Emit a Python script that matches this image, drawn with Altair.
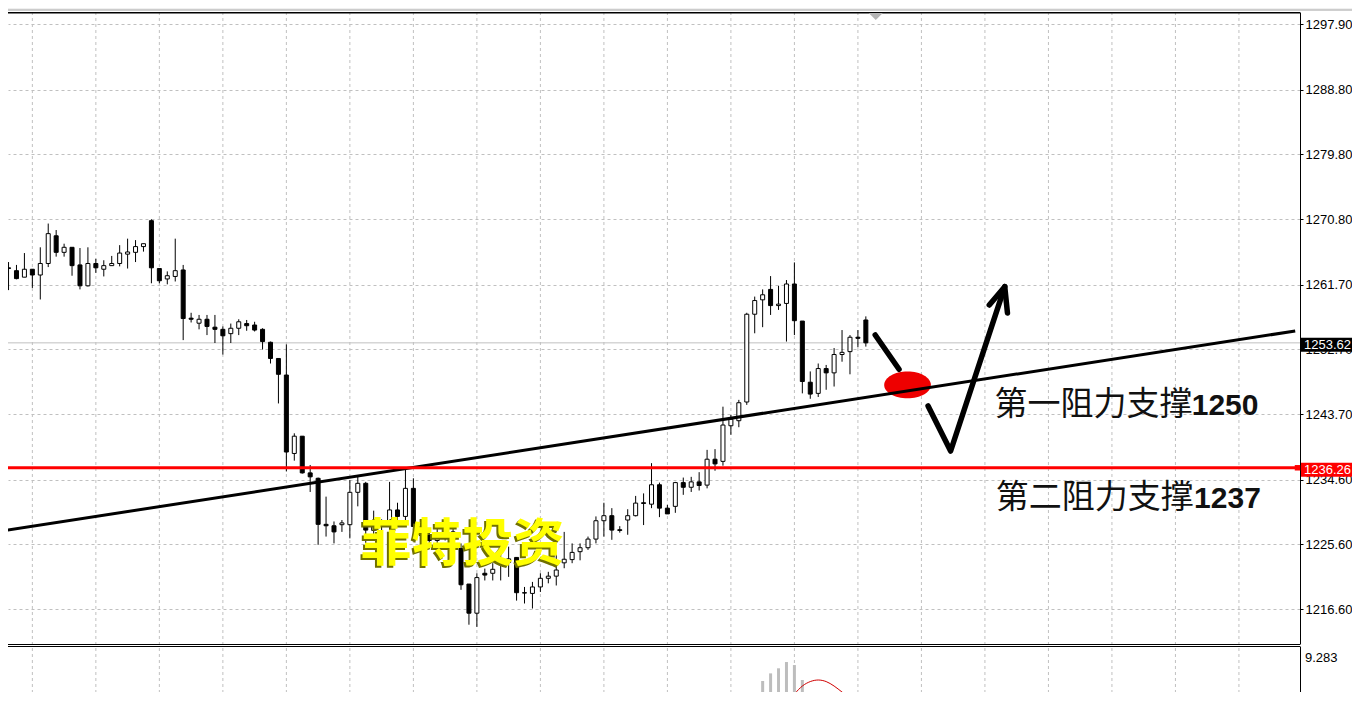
import altair as alt
import pandas as pd
import numpy as np

# ---------------- data ----------------
idx = list(range(109))
opens = [1264.05,1263.65,1262.75,1263.85,1263.05,1264.65,1268.5,1266.2,1266.9,1264.45,
         1261.55,1264.65,1263.85,1264.35,1264.65,1265.95,1266.2,1267.0,1270.6,1263.95,
         1262.5,1262.85,1263.75,1257.05,1256.35,1256.9,1255.8,1255.5,1254.9,1255.65,
         1256.3,1256.1,1255.5,1253.7,1251.45,1249.15,1238.25,1240.65,1235.55,1234.8,
         1228.4,1228.2,1228.35,1228.35,1232.85,1234.1,1227.55,1228.2,1228.35,1230.4,
         1229.5,1233.4,1228.1,1226.85,1226.15,1228.1,1227.35,1225.05,1220.1,1216.05,
         1221.6,1221.6,1222.8,1223.1,1223.8,1218.9,1218.8,1219.7,1220.9,1221.2,
         1223.05,1223.5,1224.6,1225.15,1226.35,1228.9,1229.6,1227.65,1229.0,1229.6,
         1231.4,1231.2,1233.9,1230.65,1230.9,1234.2,1233.55,1234.3,1233.85,1237.45,
         1237.15,1242.1,1242.8,1245.4,1257.6,1259.6,1261.05,1258.8,1259.1,1261.8,
         1256.65,1248.15,1246.6,1250.05,1249.45,1252.0,1252.4,1254.4,1256.8]
highs = [1264.85,1264.45,1266.1,1263.85,1266.9,1270.2,1269.3,1267.4,1266.9,1266.8,
         1266.9,1265.3,1265.1,1265.7,1267.2,1268.1,1267.9,1267.4,1270.8,1263.95,
         1263.55,1268.1,1264.45,1257.8,1257.5,1257.5,1257.5,1255.9,1256.3,1256.9,
         1256.8,1256.55,1255.65,1253.8,1251.45,1253.4,1241.05,1240.65,1236.65,1234.9,
         1232.25,1228.8,1229.0,1234.55,1235.0,1234.3,1230.3,1229.1,1234.3,1231.4,
         1235.95,1234.8,1228.9,1227.65,1227.85,1228.9,1227.85,1225.75,1220.1,1221.6,
         1222.25,1223.0,1225.45,1225.3,1223.8,1219.7,1220.4,1221.6,1221.8,1224.2,
         1227.35,1225.75,1225.75,1226.7,1229.5,1231.4,1230.65,1228.15,1230.5,1232.35,
         1232.7,1236.9,1234.2,1231.1,1234.3,1234.9,1235.0,1235.65,1238.75,1238.85,
         1244.75,1243.6,1245.7,1257.8,1260.05,1261.05,1262.9,1261.55,1262.35,1264.8,
         1256.65,1249.65,1250.75,1250.55,1252.9,1255.4,1254.7,1255.4,1257.3]
lows = [1260.95,1262.45,1262.75,1261.25,1259.65,1264.15,1265.6,1265.6,1262.95,1261.05,
        1261.45,1263.35,1262.85,1264.35,1264.25,1263.95,1264.85,1266.3,1261.9,1261.9,
        1261.75,1262.15,1254.0,1256.45,1255.5,1254.7,1253.6,1252.0,1253.6,1254.7,
        1255.3,1255.2,1252.7,1250.75,1245.2,1235.75,1237.25,1235.45,1232.9,1225.55,
        1226.7,1225.75,1227.35,1226.45,1230.9,1225.75,1226.65,1227.35,1227.6,1228.6,
        1228.6,1227.6,1225.85,1225.05,1225.35,1226.15,1225.45,1219.3,1214.45,1214.15,
        1220.6,1220.6,1220.6,1221.1,1217.8,1217.4,1216.7,1219.0,1220.2,1219.9,
        1222.3,1223.0,1223.4,1224.85,1225.75,1226.7,1226.25,1227.25,1226.95,1229.5,
        1228.3,1230.65,1229.4,1229.85,1230.0,1232.5,1232.9,1233.1,1233.4,1235.85,
        1236.55,1240.85,1241.9,1245.0,1254.95,1255.8,1257.5,1258.2,1253.8,1254.7,
        1246.6,1245.85,1246.1,1247.1,1247.55,1251.0,1249.25,1253.0,1253.1]
closes = [1263.95,1262.55,1263.85,1263.05,1264.65,1268.8,1266.2,1266.9,1264.35,1261.55,
          1264.65,1264.05,1264.35,1264.65,1266.1,1266.25,1267.0,1267.4,1264.05,1262.25,
          1262.95,1263.65,1257.0,1256.9,1256.9,1255.9,1255.5,1254.6,1255.65,1256.55,
          1256.0,1255.4,1253.8,1251.45,1249.25,1238.45,1240.65,1235.55,1235.0,1228.4,
          1228.2,1227.35,1228.6,1232.85,1234.1,1227.6,1228.4,1228.6,1230.4,1229.5,
          1233.4,1228.1,1226.85,1226.15,1226.85,1227.35,1226.25,1220.0,1216.05,1221.0,
          1221.35,1222.15,1223.2,1223.6,1218.9,1218.85,1219.7,1220.9,1221.2,1222.05,
          1223.55,1224.5,1225.15,1226.35,1228.9,1229.6,1227.6,1227.55,1229.6,1231.35,
          1231.3,1233.9,1230.65,1229.85,1234.2,1233.55,1234.3,1233.8,1237.45,1236.8,
          1242.2,1243.0,1245.3,1257.6,1259.5,1260.3,1258.8,1259.0,1261.8,1256.7,
          1248.25,1246.5,1250.05,1249.45,1252.0,1252.3,1254.4,1254.25,1253.62]

price_ticks = [1216.60, 1225.60, 1234.60, 1243.70, 1252.70, 1261.70,
               1270.80, 1279.80, 1288.80, 1297.90]
time_grid = [3, 11, 19, 27, 35, 43, 51, 59, 67, 75, 83, 91, 99, 107,
             115, 123, 131, 139, 147, 155]

last_price = 1253.62
support_price = 1236.26

hist_idx = [94, 95, 96, 97, 98, 99, 100, 101, 102]
hist_vals = [5.39, 6.55, 7.18, 7.60, 8.12, 7.87, 6.63, 5.30, 4.64]
sig_idx = [97, 98, 99, 100, 101, 102, 103, 104, 105, 106, 107, 108]
sig_vals = [3.65, 4.72, 5.47, 6.13, 6.50, 6.63, 6.50, 6.13, 5.63, 5.14, 4.56, 3.98]
ind_label = ["9.283"]

trend_i = [-0.41, 162.09]
trend_p = [1227.55, 1255.27]

arrow_seg = ["a", "a", "b", "b", "b", "c", "c", "c"]
arrow_ord = [0, 1, 0, 1, 2, 0, 1, 2]
arrow_i = [109.18, 112.18, 115.84, 118.68, 125.5, 123.55, 125.5, 125.84]
arrow_p = [1254.71, 1249.95, 1244.85, 1238.59, 1261.43, 1258.88, 1261.43, 1257.77]

ellipse_i = [113.25]
ellipse_p = [1247.77]

brand_text = ["菲特投资"]
brand_i = [44.34]
brand_p = [1225.39]

label_cn = ["第一阻力支撑", "第二阻力支撑"]
label_num = ["1250", "1237"]
label_i = [124.2, 124.35]
label_num_i = [149.05, 149.35]
label_p = [1244.99, 1232.06]

box_price = [1253.62, 1236.26]
box_text = ["1253.62", "1236.26"]
box_kind = ["bid", "line"]

# ---------------- helpers ----------------
GRID = "#c0c0c0"
W, H = 1292, 680
RIGHT = 52
XS = alt.Scale(domain=[0.5625, 162.0625], nice=False, zero=False)
PS = dict(domain=[1211.77, 1299.60], range=[632, 0], nice=False, zero=False)
IS = dict(domain=[0.0, 9.283], range=[748, 636], nice=False, zero=False)
YAX = alt.Axis(orient="right", values=price_ticks, format=".2f", grid=True,
               gridDash=[3, 3], gridColor=GRID, domain=True, domainColor="black",
               ticks=True, tickColor="black", tickSize=3, labelPadding=2,
               labelFont="Liberation Sans", labelFontSize=13, labelColor="black",
               labelAlign="left", labelBaseline="middle", labelOverlap=False,
               title=None)


def px(field="i"):
    return alt.X(f"{field}:Q", scale=XS, axis=None)


def py(field, axis=None):
    return alt.Y(f"{field}:Q", scale=alt.Scale(**PS), axis=axis)


def iy(field):
    return alt.Y(f"{field}:Q", scale=alt.Scale(**IS), axis=None)


one = pd.DataFrame({"a": [0]})

candles = pd.DataFrame({"i": idx, "open": opens, "high": highs,
                        "low": lows, "close": closes})
candles["dir"] = np.where(candles["close"] >= candles["open"], "up", "down")

# ---------------- layers ----------------
top_band = alt.Chart(one).mark_rect(color="#f0f0f0").encode(
    x=alt.value(-8), x2=alt.value(W + RIGHT), y=alt.value(-4), y2=alt.value(-2.5))
top_band_line = alt.Chart(one).mark_rule(color="#a0a0a0", strokeWidth=1).encode(
    x=alt.value(-8), x2=alt.value(W + RIGHT), y=alt.value(-2))

vgrid = alt.Chart(pd.DataFrame({"i": time_grid})).mark_rule(
    color=GRID, strokeWidth=1, strokeDash=[3, 3]).encode(
    x=px(), y=alt.value(0), y2=alt.value(H))

bid_line = alt.Chart(pd.DataFrame({"p": [last_price]})).mark_rule(
    color="#c0c0c0", strokeWidth=1).encode(
    y=py("p", YAX), x=alt.value(0), x2=alt.value(W))

hist = alt.Chart(pd.DataFrame({"i": hist_idx, "v": hist_vals})).mark_bar(
    size=3, color="#bdbdbd", clip=True).encode(
    x=px(), y=iy("v"), y2=alt.datum(0))

signal = alt.Chart(pd.DataFrame({"i": sig_idx, "v": sig_vals})).mark_line(
    color="#d00000", strokeWidth=1, clip=True, interpolate="monotone").encode(
    x=px(), y=iy("v"))

wicks = alt.Chart(candles).mark_rule(color="black", strokeWidth=1).encode(
    x=px(), y=py("low"), y2="high")

bodies = alt.Chart(candles).mark_bar(size=4, stroke="black", strokeWidth=1).encode(
    x=px(), y=py("open"), y2="close",
    fill=alt.Fill("dir:N", scale=alt.Scale(domain=["up", "down"],
                                           range=["white", "black"]), legend=None))

ELLIPSE = "M -1 0 A 1 0.572 0 1 0 1 0 A 1 0.572 0 1 0 -1 0 Z"
ellipse = alt.Chart(pd.DataFrame({"i": ellipse_i, "p": ellipse_p})).mark_point(
    shape=ELLIPSE, size=2180, filled=True, color="#ee0000", opacity=1,
    strokeWidth=0).encode(x=px(), y=py("p"))

trend = alt.Chart(pd.DataFrame({"i": trend_i, "p": trend_p})).mark_line(
    color="black", strokeWidth=3, clip=True).encode(x=px(), y=py("p"))

red_line = alt.Chart(pd.DataFrame({"p": [support_price]})).mark_rule(
    color="#ff0000", strokeWidth=3).encode(
    y=py("p"), x=alt.value(0), x2=alt.value(W))
red_sq = alt.Chart(pd.DataFrame({"p": [support_price]})).mark_square(
    size=30, color="#ff0000", opacity=1).encode(y=py("p"), x=alt.value(1289.5))

arrows = alt.Chart(pd.DataFrame({"seg": arrow_seg, "o": arrow_ord,
                                 "i": arrow_i, "p": arrow_p})).mark_line(
    color="black", strokeWidth=5.5, strokeCap="round", strokeJoin="round").encode(
    x=px(), y=py("p"), detail="seg:N", order="o:Q")

brand_df = pd.DataFrame({"i": brand_i, "p": brand_p, "t": brand_text})
brand_shadow = alt.Chart(brand_df).mark_text(
    font="Noto Sans CJK SC", fontSize=51, fontWeight="bold", color="#707000",
    align="left", baseline="middle", dx=-2, dy=2).encode(x=px(), y=py("p"), text="t:N")
brand = alt.Chart(brand_df).mark_text(
    font="Noto Sans CJK SC", fontSize=51, fontWeight="bold", color="#ffff00",
    align="left", baseline="middle").encode(x=px(), y=py("p"), text="t:N")

lab_df = pd.DataFrame({"i": label_i, "ni": label_num_i, "p": label_p,
                       "cn": label_cn, "num": label_num})
lab_cn = alt.Chart(lab_df).mark_text(
    font="Noto Sans CJK SC", fontSize=33, color="#111111", align="left",
    baseline="middle").encode(x=px(), y=py("p"), text="cn:N")
lab_num = alt.Chart(lab_df).mark_text(
    font="Liberation Sans", fontSize=30, fontWeight="bold", color="#111111",
    align="left", baseline="middle", dy=1).encode(x=px("ni"), y=py("p"), text="num:N")

frame_top = alt.Chart(one).mark_rule(color="black", strokeWidth=1.5).encode(
    x=alt.value(0), x2=alt.value(W), y=alt.value(0.75))
sep1 = alt.Chart(one).mark_rule(color="black", strokeWidth=1).encode(
    x=alt.value(0), x2=alt.value(W), y=alt.value(632.5))
sep2 = alt.Chart(one).mark_rule(color="black", strokeWidth=1).encode(
    x=alt.value(0), x2=alt.value(W), y=alt.value(634.5))
ind_border = alt.Chart(one).mark_rule(color="black", strokeWidth=1).encode(
    x=alt.value(W + 0.5), y=alt.value(634.5), y2=alt.value(H))

box_df = pd.DataFrame({"p": box_price, "t": box_text, "k": box_kind})
boxes = alt.Chart(box_df).mark_rect(yOffset=-5, y2Offset=9).encode(
    x=alt.value(W + 1), x2=alt.value(W + RIGHT), y=py("p"), y2="p",
    fill=alt.Fill("k:N", scale=alt.Scale(domain=["bid", "line"],
                                         range=["black", "#ff0000"]), legend=None))
box_txt = alt.Chart(box_df).mark_text(
    font="Liberation Sans", fontSize=13, color="white", align="left",
    baseline="middle", dy=2).encode(x=alt.value(W + 4), y=py("p"), text="t:N")

ind_txt = alt.Chart(pd.DataFrame({"t": ind_label})).mark_text(
    font="Liberation Sans", fontSize=13, color="black", align="left",
    baseline="middle").encode(x=alt.value(W + 5), y=alt.value(646), text="t:N")

TRI = "M -1 -0.5 L 1 -0.5 L 0 0.5 Z"
shift_mark = alt.Chart(pd.DataFrame({"i": [109.25]})).mark_point(
    shape=TRI, size=200, filled=True, color="#b4b4b4", opacity=1,
    strokeWidth=0).encode(x=px(), y=alt.value(4.5))

chart = alt.layer(
    top_band, top_band_line, vgrid, bid_line, hist, signal, wicks, bodies, ellipse,
    trend, red_line, red_sq, arrows, brand_shadow, brand, lab_cn, lab_num,
    frame_top, sep1, sep2, ind_border, boxes, box_txt, ind_txt, shift_mark,
).resolve_scale(
    y="independent", fill="independent"
).properties(
    width=W, height=H,
    autosize=alt.AutoSizeParams(type="none"),
    padding={"left": 0, "top": 4, "right": RIGHT, "bottom": 0},
    background="white",
).configure_view(stroke=None)

chart.save("out.html", embed_options={"renderer": "svg", "actions": False})
